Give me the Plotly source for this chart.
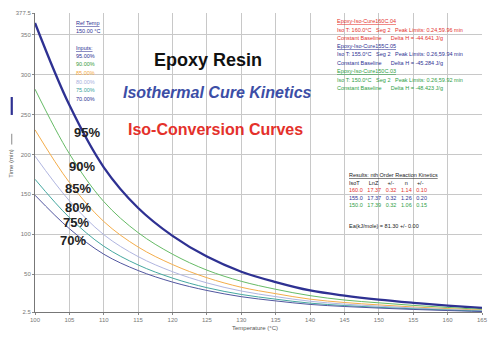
import plotly.graph_objects as go

# Isothermal temperatures (°C)
temperature = [100, 105, 110, 115, 120, 125, 130, 135, 140, 145, 150, 155, 160, 165]

# Time (min) needed to reach each conversion level
time_95 = [365, 262, 184, 133, 98, 72, 53, 40, 29.5, 23, 18, 14, 10.5, 7.5]
time_90 = [282, 201, 141, 102, 75, 55, 41, 31, 23, 17.5, 14, 10.8, 8.2, 5.8]
time_85 = [231, 165, 116, 84, 62, 45.5, 33.5, 25.5, 18.6, 14.4, 11.4, 8.8, 6.7, 4.8]
time_80 = [198, 142, 99.5, 72, 53, 39, 28.8, 21.8, 16, 12.4, 9.8, 7.6, 5.7, 4.1]
time_75 = [169, 121, 85, 61.5, 45, 33, 24.5, 18.6, 13.6, 10.6, 8.3, 6.5, 4.9, 3.5]
time_70 = [149, 107, 75, 54.5, 40, 29.5, 21.7, 16.4, 12, 9.4, 7.4, 5.7, 4.3, 3.1]

conversion_labels = ["95%", "90%", "85%", "80%", "75%", "70%"]
input_labels = ["95.00%", "90.00%", "85.00%", "80.00%", "75.00%", "70.00%"]

x_ticks = [100, 105, 110, 115, 120, 125, 130, 135, 140, 145, 150, 155, 160, 165]
y_ticks = [2.5, 50, 100, 150, 200, 250, 300, 350, 377.5]
y_tick_text = ["2.5", "50", "100", "150", "200", "250", "300", "350", "377.5"]

NAVY = "#2e3192"
RED = "#e4312b"
GREEN = "#2f9e44"
FONT = "Liberation Sans, Arial, sans-serif"

series = [
    (time_95, NAVY, 2.3),
    (time_90, "#66bb66", 1.0),
    (time_85, "#f4ad4a", 1.0),
    (time_80, "#b0b5e0", 1.0),
    (time_75, "#45a8a0", 1.0),
    (time_70, "#5257a0", 1.0),
]

fig = go.Figure()
for values, color, width in series:
    fig.add_trace(go.Scatter(
        x=temperature, y=values, mode="lines",
        line=dict(color=color, width=width, shape="spline"),
        showlegend=False, hoverinfo="skip",
    ))

annotations = []

# Conversion labels beside the curves
label_pos = [(107.6, 228), (106.8, 185), (106.3, 157), (106.2, 133), (105.9, 114.5), (105.5, 92)]
for text, (lx, ly) in zip(conversion_labels, label_pos):
    annotations.append(dict(x=lx, y=ly, xref="x", yref="y", text="<b>" + text + "</b>", showarrow=False,
                            font=dict(family=FONT, size=13, color="#222222"),
                            xanchor="center", yanchor="middle"))

# Headline texts
annotations.append(dict(x=125.1, y=318, xref="x", yref="y", text="<b>Epoxy Resin</b>",
                        showarrow=False, font=dict(family=FONT, size=18, color="#111111")))
annotations.append(dict(x=126.6, y=278, xref="x", yref="y", text="<b><i>Isothermal Cure Kinetics</i></b>",
                        showarrow=False, font=dict(family=FONT, size=16, color="#3c4ea6")))
annotations.append(dict(x=126.3, y=232, xref="x", yref="y", text="<b>Iso-Conversion Curves</b>",
                        showarrow=False, font=dict(family=FONT, size=16, color=RED)))

def px_y(py):
    return (314.3 - py) / 0.806

def px_x(px):
    return 100 + (px - 35) / 6.94

def small(px, py, text, color, size=5.5):
    annotations.append(dict(x=px_x(px), y=px_y(py), xref="x", yref="y", text=text,
                            showarrow=False, xanchor="left", yanchor="middle",
                            font=dict(family=FONT, size=size, color=color)))

# Reference temperature and inputs
small(74, 20.5, "<u>Ref Temp</u>", NAVY)
small(74, 28.3, "150.00 °C", NAVY)
small(74, 45, "<u>Inputs:</u>", NAVY)
input_colors = [NAVY, "#3a9a3a", "#f4a940", "#aab0dd", "#3aa39a", NAVY]
input_rows = [53.3, 62, 70.5, 79.5, 88, 96.5]
for text, color, py in zip(input_labels, input_colors, input_rows):
    small(74, py, text, color)

# Data file summaries
blocks = [
    (RED, "Epoxy-Iso-Cure160C.04", "Iso T: 160.0°C   Seg 2   Peak Limits: 0.24,59.96 min", "-44.641"),
    (NAVY, "Epoxy-Iso-Cure155C.05", "Iso T: 155.0°C   Seg 2   Peak Limits: 0.26,59.94 min", "-45.284"),
    (GREEN, "Epoxy-Iso-Cure150C.03", "Iso T: 150.0°C   Seg 2   Peak Limits: 0.26,59.92 min", "-48.423"),
]
row_y = [18.3, 26.8, 35.1, 43.4, 51.8, 60.1, 69, 77.5, 85.8]
for i, (color, name, iso, dh) in enumerate(blocks):
    small(338, row_y[3 * i], "<u>" + name + "</u>", color)
    small(338, row_y[3 * i + 1], iso, color)
    small(338, row_y[3 * i + 2], "Constant Baseline      Delta H = " + dh + " J/g", color)

# Kinetics results table
small(350, 173.3, "<u>Results: nth Order Reaction Kinetics</u>", "#222222")
small(350, 181.7, "IsoT      LnZ      +/-       n      +/-", "#222222")
small(350, 189.2, "160.0   17.37   0.32   1.14   0.10", RED)
small(350, 196.8, "155.0   17.37   0.32   1.26   0.20", NAVY)
small(350, 204.4, "150.0   17.39   0.32   1.06   0.15", GREEN)
small(350, 225, "Ea(kJ/mole) = 81.30 +/- 0.00", "#222222")

# Axis titles
annotations.append(dict(x=0.492, y=-0.052, xref="paper", yref="paper", text="Temperature (°C)",
                        showarrow=False, yanchor="middle",
                        font=dict(family=FONT, size=6, color="#555555")))
annotations.append(dict(x=-0.053, y=0.497, xref="paper", yref="paper", text="Time (min)",
                        showarrow=False, textangle=-90, xanchor="center", yanchor="middle",
                        font=dict(family=FONT, size=6, color="#555555")))

shapes = [
    dict(type="line", xref="paper", yref="paper", x0=-0.052, x1=-0.052, y0=0.659, y1=0.719,
         line=dict(color=NAVY, width=2.2)),
    dict(type="line", xref="paper", yref="paper", x0=-0.052, x1=-0.052, y0=0.56, y1=0.596,
         line=dict(color="#888888", width=1)),
]

fig.update_layout(
    width=498, height=339,
    margin=dict(l=35, r=12, t=10, b=27),
    paper_bgcolor="white", plot_bgcolor="white",
    annotations=annotations, shapes=shapes,
    font=dict(family=FONT),
)
fig.update_xaxes(
    range=[100, 165], tickvals=x_ticks, ticktext=[str(v) for v in x_ticks],
    showgrid=True, gridcolor="#c8c8c8", gridwidth=1,
    showline=True, linecolor="#777777", linewidth=1,
    ticks="outside", ticklen=2, tickcolor="#888888",
    tickfont=dict(family=FONT, size=6, color="#777777"),
    zeroline=False,
)
fig.update_yaxes(
    range=[2.5, 377.5], tickvals=y_ticks, ticktext=y_tick_text,
    showgrid=True, gridcolor="#c8c8c8", gridwidth=1,
    showline=True, linecolor="#777777", linewidth=1,
    ticks="outside", ticklen=2, tickcolor="#888888",
    tickfont=dict(family=FONT, size=6, color="#777777"),
    zeroline=False,
)

fig.write_html("out.html")
